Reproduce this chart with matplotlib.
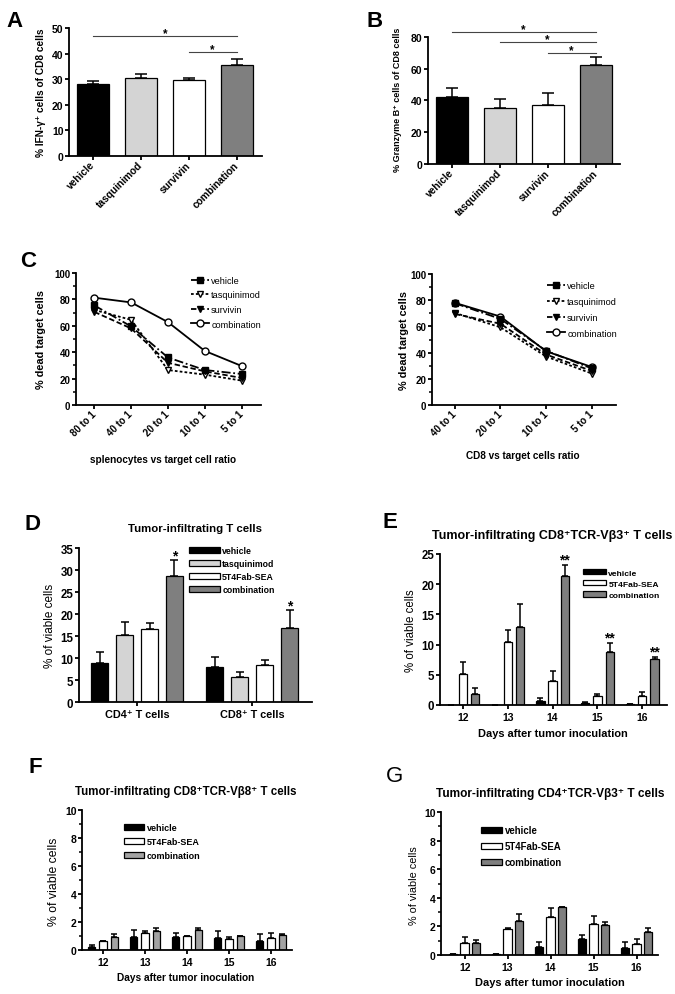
import numpy as np
from matplotlib import pyplot as plt

plt.rcParams['font.family'] = ['Liberation Sans', 'DejaVu Sans']
plt.rcParams['font.weight'] = 'bold'
plt.rcParams['axes.linewidth'] = 1.3
plt.rcParams['xtick.major.width'] = 1.3
plt.rcParams['ytick.major.width'] = 1.3
plt.rcParams['ytick.minor.width'] = 1.1
plt.rcParams['xtick.major.size'] = 3
plt.rcParams['ytick.major.size'] = 3
plt.rcParams['ytick.minor.size'] = 2
plt.rcParams['xtick.major.pad'] = 2
plt.rcParams['ytick.major.pad'] = 1

# ---- data ----
groups_ab = ['vehicle', 'tasquinimod', 'survivin', 'combination']
ifn_mean = [28.0, 30.5, 29.8, 35.7]
ifn_err = [1.2, 1.5, 0.7, 2.3]
gzb_mean = [42.0, 35.0, 37.0, 62.5]
gzb_err = [6.0, 5.8, 7.5, 5.0]

ratios_spl = ['80 to 1', '40 to 1', '20 to 1', '10 to 1', '5 to 1']
spl_vehicle = [75.4, 59.5, 36.0, 26.5, 23.5]
spl_tasq = [72.0, 64.5, 26.5, 23.0, 18.5]
spl_surv = [70.5, 58.0, 32.0, 25.5, 20.5]
spl_comb = [81.3, 77.7, 62.8, 41.0, 29.6]

ratios_cd8 = ['40 to 1', '20 to 1', '10 to 1', '5 to 1']
cd8_vehicle = [77.7, 65.7, 41.4, 27.9]
cd8_tasq = [70.3, 59.3, 37.0, 24.0]
cd8_surv = [69.5, 62.0, 38.5, 26.0]
cd8_comb = [78.0, 67.5, 41.0, 29.0]

tcell_groups = ['CD4\u207a T cells', 'CD8\u207a T cells']
til_vehicle = [8.9, 7.9]
til_vehicle_err = [2.4, 2.4]
til_tasq = [15.3, 5.7]
til_tasq_err = [2.8, 1.2]
til_5t4 = [16.6, 8.3]
til_5t4_err = [1.4, 1.2]
til_comb = [28.6, 16.8]
til_comb_err = [3.7, 4.1]

days = [12, 13, 14, 15, 16]
e_vehicle = [0.05, 0.05, 0.66, 0.33, 0.15]
e_vehicle_err = [0.0, 0.0, 0.55, 0.1, 0.05]
e_5t4 = [5.1, 10.5, 4.0, 1.55, 1.45]
e_5t4_err = [2.1, 1.9, 1.7, 0.35, 0.75]
e_comb = [1.9, 12.9, 21.4, 8.7, 7.6]
e_comb_err = [0.95, 3.9, 1.8, 1.5, 0.4]

f_vehicle = [0.24, 0.93, 0.9, 0.83, 0.64]
f_vehicle_err = [0.14, 0.52, 0.34, 0.51, 0.48]
f_5t4 = [0.62, 1.22, 1.0, 0.81, 0.86]
f_5t4_err = [0.05, 0.12, 0.02, 0.12, 0.38]
f_comb = [0.95, 1.36, 1.4, 0.98, 1.07]
f_comb_err = [0.22, 0.24, 0.2, 0.05, 0.05]

g_vehicle = [0.05, 0.05, 0.58, 1.14, 0.49]
g_vehicle_err = [0.02, 0.02, 0.35, 0.26, 0.44]
g_5t4 = [0.84, 1.84, 2.67, 2.16, 0.79]
g_5t4_err = [0.39, 0.04, 0.61, 0.58, 0.3]
g_comb = [0.84, 2.4, 3.33, 2.07, 1.63]
g_comb_err = [0.23, 0.46, 0.04, 0.23, 0.23]

BLACK, LIGHT, WHITE, DARK = '#000000', '#d4d4d4', '#ffffff', '#7f7f7f'

W, H = 675, 995
fig = plt.figure(figsize=(W / 100, H / 100), dpi=100)


def axes_px(x0, y0, x1, y1):
    ax = fig.add_axes([x0 / W, 1 - y1 / H, (x1 - x0) / W, (y1 - y0) / H])
    ax.spines['top'].set_visible(False)
    ax.spines['right'].set_visible(False)
    return ax


def text_px(x, y, s, **kw):
    return fig.text(x / W, 1 - y / H, s, **kw)


def ylabel_px(x, yc, s, size, weight='bold'):
    text_px(x, yc, s, rotation=90, ha='center', va='center', fontsize=size, fontweight=weight)


def bar_series(ax, x, means, errs, width, color, label=None, capsize=2.5):
    x = np.asarray(x, dtype=float)
    ax.errorbar(x, means, yerr=[np.zeros(len(means)), errs], fmt='none', ecolor='black',
                elinewidth=1.1, capsize=capsize, capthick=1.1, zorder=1)
    return ax.bar(x, means, width, color=color, edgecolor='black', linewidth=0.9,
                  label=label, zorder=2)


def bar_legend(ax, x, y, size, hlen, spacing):
    ax.legend(loc='upper left', bbox_to_anchor=(x / W, 1 - y / H), bbox_transform=fig.transFigure,
              frameon=False, borderpad=0, borderaxespad=0, handlelength=hlen, handleheight=0.6,
              handletextpad=0.3, labelspacing=spacing, prop={'size': size, 'weight': 'bold'})


# ---- A ----
x4 = np.arange(4)
ax = axes_px(69, 29, 262, 157)
bar_series(ax, x4, ifn_mean, ifn_err, 0.67, [BLACK, LIGHT, WHITE, DARK], capsize=4)
ax.set_xlim(-0.5, 3.53)
ax.set_ylim(0, 50)
ax.set_yticks(range(0, 51, 10))
ax.set_xticks(x4)
ax.set_xticklabels(groups_ab, rotation=45, ha='right', va='center', rotation_mode='anchor', fontsize=7.3)
ax.tick_params(axis='y', labelsize=7.5)
for i, j, y in [(0, 3, 46.8), (2, 3, 40.7)]:
    ax.plot([i, j], [y, y], color='#444444', lw=0.8, clip_on=False)
    ax.text((i + j) / 2, y, '*', ha='center', va='baseline', fontsize=8.5)
ylabel_px(41, 93, '% IFN-\u03b3\u207a cells of CD8 cells', 7.3)
text_px(6, 27, 'A', fontsize=16, va='baseline')

# ---- B ----
ax = axes_px(428, 37.7, 620, 165)
bar_series(ax, x4, gzb_mean, gzb_err, 0.67, [BLACK, LIGHT, WHITE, DARK], capsize=4)
ax.set_xlim(-0.5, 3.51)
ax.set_ylim(0, 80)
ax.set_yticks(range(0, 81, 20))
ax.set_xticks(x4)
ax.set_xticklabels(groups_ab, rotation=45, ha='right', va='center', rotation_mode='anchor', fontsize=7.3)
ax.tick_params(axis='y', labelsize=7.5)
for i, j, y in [(0, 3, 82.8), (1, 3, 76.5), (2, 3, 69.8)]:
    ax.plot([i, j], [y, y], color='#444444', lw=0.8, clip_on=False)
    ax.text((i + j) / 2, y, '*', ha='center', va='baseline', fontsize=8.5)
ylabel_px(398, 100, '% Granzyme B\u207a cells of CD8 cells', 6.5)
text_px(366, 27, 'B', fontsize=16, va='baseline')


# ---- C ----
def cyto_plot(ax, labels, veh, tasq, surv, comb):
    xs = np.arange(len(labels))
    ax.plot(xs, veh, linestyle=(0, (5, 1.5, 1, 1.5)), marker='s', color='black', ms=4.5, lw=1.3,
            label='vehicle', zorder=5)
    ax.plot(xs, tasq, linestyle=(0, (1.5, 1.2)), marker='v', color='black', mfc='white', ms=5,
            lw=1.3, label='tasquinimod', zorder=3)
    ax.plot(xs, surv, linestyle=(0, (3, 1.5)), marker='v', color='black', ms=5, lw=1.3,
            label='survivin', zorder=4)
    ax.plot(xs, comb, linestyle='-', marker='o', color='black', mfc='white', ms=5, lw=1.3,
            label='combination', zorder=2)
    ax.set_ylim(0, 100)
    ax.set_xlim(-0.5, len(labels) - 0.47)
    ax.set_yticks(range(0, 101, 20))
    ax.set_yticks(range(10, 100, 20), minor=True)
    ax.set_xticks(xs)
    ax.set_xticklabels(labels, rotation=45, ha='right', va='center', rotation_mode='anchor', fontsize=7)
    ax.tick_params(axis='y', labelsize=7)


ax = axes_px(76, 274, 261, 406)
cyto_plot(ax, ratios_spl, spl_vehicle, spl_tasq, spl_surv, spl_comb)
ax.legend(loc='upper left', bbox_to_anchor=(191 / W, 1 - 277 / H), bbox_transform=fig.transFigure,
          frameon=False, borderpad=0, borderaxespad=0, handlelength=2.0, handletextpad=0.2,
          labelspacing=0.6, prop={'size': 6.6, 'weight': 'normal'})
ylabel_px(41, 340, '% dead target cells', 7.8)
text_px(163, 463, 'splenocytes vs target cell ratio', ha='center', va='baseline', fontsize=7.2)
text_px(20, 267, 'C', fontsize=16, va='baseline')

ax = axes_px(432, 275, 616, 406)
cyto_plot(ax, ratios_cd8, cd8_vehicle, cd8_tasq, cd8_surv, cd8_comb)
ax.legend(loc='upper left', bbox_to_anchor=(547 / W, 1 - 282 / H), bbox_transform=fig.transFigure,
          frameon=False, borderpad=0, borderaxespad=0, handlelength=2.0, handletextpad=0.2,
          labelspacing=0.75, prop={'size': 6.6, 'weight': 'normal'})
ylabel_px(404, 341, '% dead target cells', 7.8)
text_px(523, 459, 'CD8 vs target cells ratio', ha='center', va='baseline', fontsize=7.2)

# ---- D ----
ax = axes_px(79, 549, 312, 703)
xg = np.arange(2)
step, w = 0.217, 0.143
series_d = [(til_vehicle, til_vehicle_err, BLACK, 'vehicle'),
            (til_tasq, til_tasq_err, LIGHT, 'tasquinimod'),
            (til_5t4, til_5t4_err, WHITE, '5T4Fab-SEA'),
            (til_comb, til_comb_err, DARK, 'combination')]
for k, (m, e, c, lab) in enumerate(series_d):
    bar_series(ax, xg + (k - 1.5) * step, m, e, w, c, lab, capsize=3)
for i in range(2):
    ax.text(xg[i] + 1.5 * step, til_comb[i] + til_comb_err[i] + 0.2, '*', ha='center', va='baseline', fontsize=10)
ax.set_xlim(-0.504, 1.52)
ax.set_ylim(0, 35)
ax.set_yticks(range(0, 36, 5))
ax.set_xticks(xg)
ax.set_xticklabels(tcell_groups, fontsize=7.8)
ax.tick_params(axis='y', labelsize=8.3)
bar_legend(ax, 189, 547, 6.3, 3.5, 0.45)
ylabel_px(50, 626, '% of viable cells', 8.5, 'normal')
text_px(195, 532, 'Tumor-infiltrating T cells', ha='center', va='baseline', fontsize=8.2)
text_px(25, 530, 'D', fontsize=16, va='baseline')


# ---- E, F, G ----
def day_panel(ax, veh, veh_e, t4, t4_e, comb, comb_e, comb_color, step, w, ymax, ystep):
    xd = np.array(days, dtype=float)
    bar_series(ax, xd - step, veh, veh_e, w, BLACK, 'vehicle', capsize=2.2)
    bar_series(ax, xd, t4, t4_e, w, WHITE, '5T4Fab-SEA', capsize=2.2)
    bar_series(ax, xd + step, comb, comb_e, w, comb_color, 'combination', capsize=2.2)
    ax.set_ylim(0, ymax)
    ax.set_yticks(np.arange(0, ymax + 0.1, ystep))
    ax.set_xticks(days)
    ax.tick_params(labelsize=7.5)


ax = axes_px(440, 555, 667, 706)
day_panel(ax, e_vehicle, e_vehicle_err, e_5t4, e_5t4_err, e_comb, e_comb_err, DARK, 0.273, 0.185, 25, 5)
ax.set_xlim(11.49, 16.55)
ax.tick_params(axis='y', labelsize=8.3)
for i in [2, 3, 4]:
    ax.text(days[i] + 0.273, e_comb[i] + e_comb_err[i] + 0.25, '**', ha='center', va='baseline', fontsize=10)
bar_legend(ax, 583, 570, 6.1, 2.7, 0.4)
ylabel_px(411, 631, '% of viable cells', 8.3, 'normal')
text_px(552, 539, 'Tumor-infiltrating CD8\u207aTCR-V\u03b23\u207a T cells', ha='center', va='baseline', fontsize=9)
text_px(553, 737, 'Days after tumor inoculation', ha='center', va='baseline', fontsize=7.9)
text_px(383, 528, 'E', fontsize=16, va='baseline')

ax = axes_px(82, 811, 292, 951)
day_panel(ax, f_vehicle, f_vehicle_err, f_5t4, f_5t4_err, f_comb, f_comb_err, '#a3a3a3', 0.27, 0.175, 10, 2)
ax.set_yticks(range(1, 10, 2), minor=True)
ax.set_xlim(11.5, 16.5)
bar_legend(ax, 124, 824, 6.5, 2.2, 0.55)
ylabel_px(54, 882, '% of viable cells', 8.8, 'normal')
text_px(186, 795, 'Tumor-infiltrating CD8\u207aTCR-V\u03b28\u207a T cells', ha='center', va='baseline', fontsize=8.3)
text_px(186, 981, 'Days after tumor inoculation', ha='center', va='baseline', fontsize=7.3)
text_px(28, 773, 'F', fontsize=16, va='baseline')

ax = axes_px(441, 813, 658, 956)
day_panel(ax, g_vehicle, g_vehicle_err, g_5t4, g_5t4_err, g_comb, g_comb_err, DARK, 0.272, 0.193, 10, 2)
ax.set_yticks(range(1, 10, 2), minor=True)
ax.set_xlim(11.45, 16.5)
bar_legend(ax, 481, 826, 6.9, 2.2, 0.65)
ylabel_px(414, 886, '% of viable cells', 7.8, 'normal')
text_px(550, 797, 'Tumor-infiltrating CD4\u207aTCR-V\u03b23\u207a T cells', ha='center', va='baseline', fontsize=8.6)
text_px(550, 986, 'Days after tumor inoculation', ha='center', va='baseline', fontsize=7.9)
text_px(386, 782, 'G', fontsize=16, va='baseline', fontweight='normal')

plt.savefig('out.png', dpi=100)
